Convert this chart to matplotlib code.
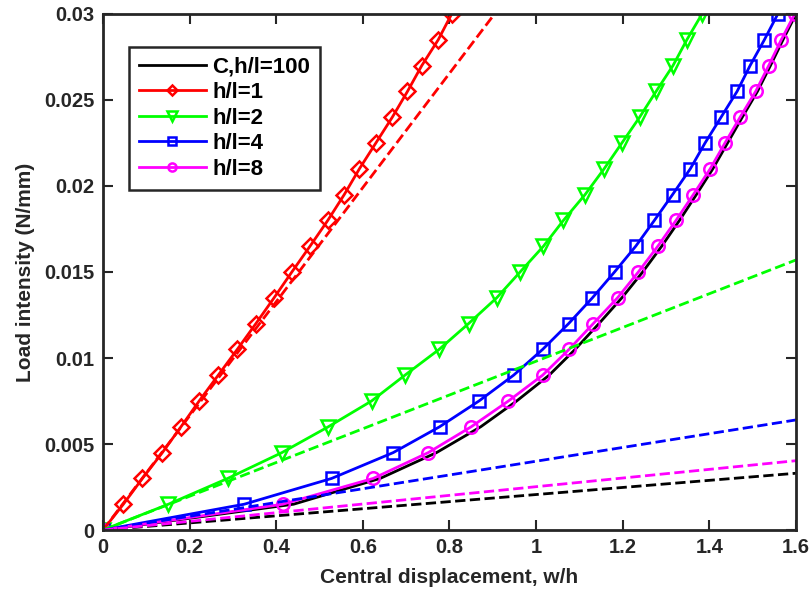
import matplotlib.pyplot as plt
import numpy as np

plt.rcParams['font.family'] = ['Liberation Sans', 'DejaVu Sans']
plt.rcParams['font.weight'] = 'bold'

# load steps (N/mm) shared by all nonlinear curves
load = [0, 0.0015, 0.003, 0.0045, 0.006, 0.0075, 0.009, 0.0105, 0.012, 0.0135, 0.015,
        0.0165, 0.018, 0.0195, 0.021, 0.0225, 0.024, 0.0255, 0.027, 0.0285, 0.03]

# central displacement w/h
w_c100 = [0, 0.44, 0.64, 0.77, 0.872, 0.955, 1.030, 1.090, 1.145, 1.198, 1.246,
          1.290, 1.331, 1.370, 1.408, 1.442, 1.476, 1.511, 1.541, 1.570, 1.600]
w_h1 = [0, 0.047, 0.091, 0.137, 0.180, 0.222, 0.266, 0.310, 0.353, 0.395, 0.436,
        0.478, 0.519, 0.557, 0.592, 0.630, 0.668, 0.703, 0.736, 0.774, 0.805]
w_h2 = [0, 0.151, 0.288, 0.413, 0.520, 0.620, 0.697, 0.776, 0.844, 0.909, 0.963,
        1.017, 1.063, 1.113, 1.157, 1.198, 1.239, 1.277, 1.316, 1.348, 1.383]
w_h4 = [0, 0.326, 0.528, 0.670, 0.777, 0.868, 0.948, 1.015, 1.075, 1.130, 1.181,
        1.230, 1.273, 1.315, 1.356, 1.390, 1.427, 1.464, 1.494, 1.527, 1.558]
w_h8 = [0, 0.415, 0.624, 0.751, 0.850, 0.936, 1.015, 1.076, 1.132, 1.188, 1.236,
        1.281, 1.323, 1.363, 1.402, 1.436, 1.471, 1.507, 1.537, 1.566, 1.597]

# linear solutions (dashed): end points of straight lines
lin_x = [0, 1.6]
lin_c100 = [0, 0.0033]
lin_h1 = [0, 0.0531]
lin_h2 = [0, 0.0157]
lin_h4 = [0, 0.0064]
lin_h8 = [0, 0.00403]

red = (1, 0, 0)
green = (0, 1, 0)
blue = (0, 0, 1)
magenta = (1, 0, 1)

fig = plt.figure(figsize=(8.11, 5.92), dpi=100)
ax = fig.add_axes([0.127, 0.1047, 0.8545, 0.8717])

lw = 2
ax.plot(w_c100, load, '-', color='k', lw=lw, label='C,h/l=100')
ax.plot(w_h1, load, '-', color=red, lw=lw, marker='D', ms=8, mfc='none', mew=1.8, label='h/l=1')
ax.plot(w_h2, load, '-', color=green, lw=lw, marker='v', ms=10, mfc='none', mew=1.8, label='h/l=2')
ax.plot(w_h4, load, '-', color=blue, lw=lw, marker='s', ms=8, mfc='none', mew=1.8, label='h/l=4')
ax.plot(w_h8, load, '-', color=magenta, lw=lw, marker='o', ms=9, mfc='none', mew=1.8, label='h/l=8')

ax.plot(lin_x, lin_c100, '--', color='k', lw=lw)
ax.plot(lin_x, lin_h1, '--', color=red, lw=lw)
ax.plot(lin_x, lin_h2, '--', color=green, lw=lw)
ax.plot(lin_x, lin_h4, '--', color=blue, lw=lw)
ax.plot(lin_x, lin_h8, '--', color=magenta, lw=lw)

ax.set_xlim(0, 1.6)
ax.set_ylim(0, 0.03)
ax.set_xticks(np.arange(0, 1.61, 0.2))
ax.set_xticklabels(['0', '0.2', '0.4', '0.6', '0.8', '1', '1.2', '1.4', '1.6'])
ax.set_yticks([0, 0.005, 0.01, 0.015, 0.02, 0.025, 0.03])
ax.set_yticklabels(['0', '0.005', '0.01', '0.015', '0.02', '0.025', '0.03'])
ax.tick_params(direction='in', length=7, width=1.5, top=True, right=True,
               labelsize=14.5, colors='#262626', pad=6)
for s in ax.spines.values():
    s.set_linewidth(2)
    s.set_color('#262626')

ax.set_xlabel('Central displacement, w/h', fontsize=15, fontweight='bold', color='#262626', labelpad=8)
ax.set_ylabel('Load intensity (N/mm)', fontsize=15, fontweight='bold', color='#262626', labelpad=7)

leg = ax.legend(loc='upper left', bbox_to_anchor=(0.159, 0.921), bbox_transform=fig.transFigure,
                borderaxespad=0, prop={'weight': 'bold', 'size': 16}, markerscale=0.65,
                handlelength=3.0, handletextpad=0.3, labelspacing=0.2, borderpad=0.45,
                fancybox=False, edgecolor='#262626', framealpha=1)
leg.get_frame().set_linewidth(1.8)

fig.savefig('out.png', dpi=100)
